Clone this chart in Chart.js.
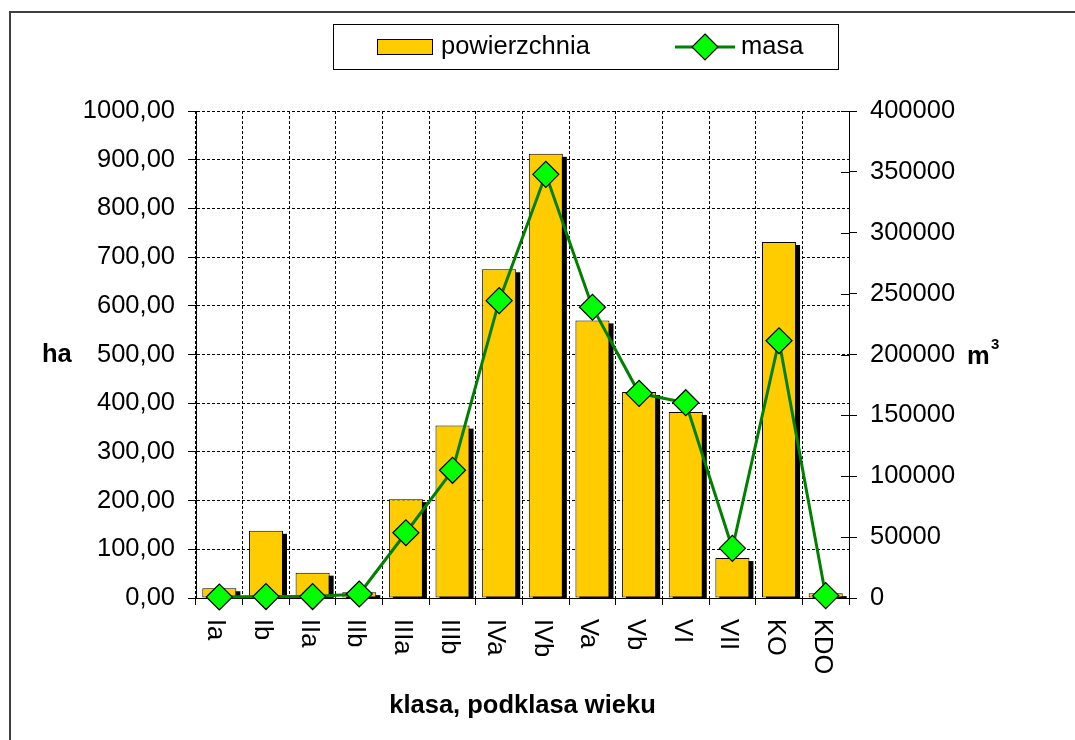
<!DOCTYPE html>
<html>
<head>
<meta charset="utf-8">
<script src="https://cdn.jsdelivr.net/npm/chart.js@4/dist/chart.umd.min.js"></script>
<style>
  html, body { margin: 0; padding: 0; background: #fff; }
  #wrap { width: 1075px; height: 740px; }
</style>
</head>
<body>
<div id="wrap"><canvas id="wiekChart" width="1075" height="740"></canvas></div>
<script>
// dane: klasy i podklasy wieku
const categories = ['Ia', 'Ib', 'IIa', 'IIb', 'IIIa', 'IIIb', 'IVa', 'IVb', 'Va', 'Vb', 'VI', 'VII', 'KO', 'KDO'];
const powierzchnia = [20, 138, 52, 12, 203, 354, 675, 912, 570, 423, 382, 82, 731, 10];
const masa = [800, 1200, 1200, 3300, 53600, 104900, 244200, 348000, 238800, 168100, 160400, 40800, 211300, 2000];
const haTicks = [0, 100, 200, 300, 400, 500, 600, 700, 800, 900, 1000];
const m3Ticks = [0, 50000, 100000, 150000, 200000, 250000, 300000, 350000, 400000];

const FONT = '"Liberation Sans", Arial, sans-serif';
const FS = 25.5;

// rysunki dodatkowe: cien slupkow, ramka, legenda, podpisy osi
const extras = {
    id: 'extras',
    beforeDatasetDraw(chart, args) {
        if (args.index !== 1) return;
        const ctx = chart.ctx;
        const area = chart.chartArea;
        ctx.save();
        ctx.beginPath();
        ctx.rect(area.left, area.top, area.right - area.left, area.bottom - area.top);
        ctx.clip();
        ctx.fillStyle = '#000';
        args.meta.data.forEach(el => {
            const p = el.getProps(['x', 'y', 'base', 'width'], true);
            ctx.fillRect(p.x - p.width / 2 + 4, p.y + 3, p.width, p.base - p.y);
        });
        ctx.restore();
    },
    afterDraw(chart) {
        const ctx = chart.ctx;
        const area = chart.chartArea;
        const xs = chart.scales.x;
        const y1 = chart.scales.y1;
        ctx.save();

        // ramka
        ctx.strokeStyle = '#404040';
        ctx.lineWidth = 2;
        ctx.strokeRect(10, 12, 1100, 800);

        // kreski prawej osi wewnatrz wykresu
        ctx.strokeStyle = '#000';
        ctx.lineWidth = 1;
        m3Ticks.forEach(v => {
            const py = Math.round(y1.getPixelForValue(v)) + 0.5;
            ctx.beginPath();
            ctx.moveTo(area.right - 8, py);
            ctx.lineTo(area.right, py);
            ctx.stroke();
        });

        // etykiety osi X obrocone
        ctx.fillStyle = '#000';
        ctx.font = FS + 'px ' + FONT;
        ctx.textAlign = 'left';
        ctx.textBaseline = 'middle';
        categories.forEach((c, i) => {
            ctx.save();
            ctx.translate(xs.getPixelForValue(i) - 4, area.bottom + 21);
            ctx.rotate(Math.PI / 2);
            ctx.fillText(c, 0, 0);
            ctx.restore();
        });

        // tytul osi X
        ctx.font = 'bold ' + FS + 'px ' + FONT;
        ctx.textAlign = 'center';
        ctx.fillText('klasa, podklasa wieku', (area.left + area.right) / 2, 706);

        // jednostki
        const yMid = chart.scales.y.getPixelForValue(500);
        ctx.textAlign = 'left';
        ctx.fillText('ha', 42, yMid);
        ctx.fillText('m', 967, yMid + 2);
        ctx.font = 'bold 15px ' + FONT;
        ctx.fillText('3', 991, yMid - 10);

        // legenda
        ctx.fillStyle = '#fff';
        ctx.fillRect(333, 24, 505, 45);
        ctx.strokeStyle = '#000';
        ctx.lineWidth = 1;
        ctx.strokeRect(333.5, 24.5, 505, 45);
        const ds = chart.data.datasets;
        const bar = ds[1], line = ds[0];
        ctx.fillStyle = bar.backgroundColor;
        ctx.fillRect(377, 39, 56, 16);
        ctx.strokeRect(377.5, 39.5, 55, 15);
        ctx.fillStyle = '#000';
        ctx.font = FS + 'px ' + FONT;
        ctx.textBaseline = 'middle';
        ctx.fillText(bar.label, 441, 47);
        ctx.strokeStyle = line.borderColor;
        ctx.lineWidth = 3;
        ctx.beginPath();
        ctx.moveTo(675, 47);
        ctx.lineTo(735, 47);
        ctx.stroke();
        ctx.beginPath();
        ctx.moveTo(705, 47 - 13);
        ctx.lineTo(705 + 13, 47);
        ctx.lineTo(705, 47 + 13);
        ctx.lineTo(705 - 13, 47);
        ctx.closePath();
        ctx.fillStyle = line.pointBackgroundColor;
        ctx.fill();
        ctx.strokeStyle = '#000';
        ctx.lineWidth = 1.2;
        ctx.stroke();
        ctx.fillStyle = '#000';
        ctx.fillText(line.label, 741, 47);

        ctx.restore();
    }
};

const ctx = document.getElementById('wiekChart').getContext('2d');
const wiekChart = new Chart(ctx, {
    type: 'bar',
    data: {
        labels: categories,
        datasets: [{
            type: 'line',
            label: 'masa',
            data: masa,
            yAxisID: 'y1',
            borderColor: '#008000',
            borderWidth: 3,
            pointStyle: 'rectRot',
            pointRadius: 13,
            pointHoverRadius: 13,
            pointBackgroundColor: '#00FF00',
            pointBorderColor: '#000',
            pointBorderWidth: 1.2,
            tension: 0,
            clip: false,
            order: 0
        }, {
            type: 'bar',
            label: 'powierzchnia',
            data: powierzchnia,
            yAxisID: 'y',
            backgroundColor: '#FFCC00',
            borderColor: '#000',
            borderWidth: 1,
            borderSkipped: false,
            barPercentage: 0.73,
            categoryPercentage: 1,
            order: 1
        }]
    },
    options: {
        responsive: false,
        animation: false,
        events: [],
        layout: {
            padding: { top: 111, left: 0, right: 0, bottom: 0 }
        },
        plugins: {
            legend: { display: false },
            tooltip: { enabled: false }
        },
        scales: {
            x: {
                offset: true,
                grid: {
                    offset: true,
                    color: '#000',
                    tickColor: '#000',
                    tickLength: 7,
                    tickBorderDash: []
                },
                border: { color: '#000', width: 1, dash: [3, 2] },
                ticks: {
                    autoSkip: false,
                    maxRotation: 0,
                    color: 'rgba(0,0,0,0)',
                    font: { size: 10 }
                },
                afterFit(scale) { scale.height = 142; }
            },
            y: {
                position: 'left',
                min: 0,
                max: 1000,
                afterBuildTicks(scale) { scale.ticks = haTicks.map(v => ({ value: v })); },
                ticks: {
                    padding: 13,
                    color: '#000',
                    font: { family: FONT, size: FS },
                    callback: v => v.toFixed(2).replace('.', ',')
                },
                grid: {
                    color: '#000',
                    tickColor: '#000',
                    tickLength: 8,
                    tickBorderDash: []
                },
                border: { color: '#000', width: 1, dash: [3, 2] },
                afterFit(scale) { scale.width = 196; }
            },
            y1: {
                position: 'right',
                min: 0,
                max: 400000,
                afterBuildTicks(scale) { scale.ticks = m3Ticks.map(v => ({ value: v })); },
                ticks: {
                    padding: 13,
                    color: '#000',
                    font: { family: FONT, size: FS },
                    callback: v => String(v)
                },
                grid: {
                    drawOnChartArea: false,
                    tickColor: '#000',
                    tickLength: 8
                },
                border: { color: '#000', width: 1 },
                afterFit(scale) { scale.width = 226; }
            }
        }
    },
    plugins: [extras]
});
</script>
</body>
</html>
